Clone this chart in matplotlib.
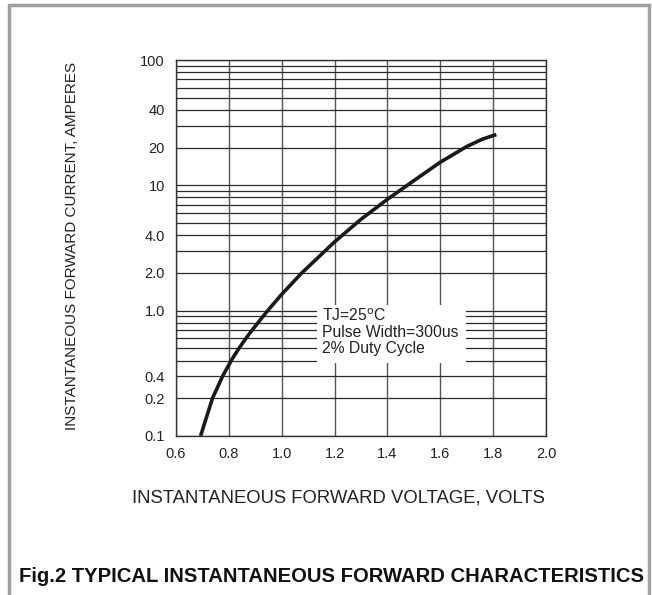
import matplotlib
matplotlib.use("Agg")
import matplotlib.pyplot as plt
from matplotlib.patches import Rectangle
from matplotlib.ticker import FixedLocator, LogLocator, NullFormatter

plt.rcParams["font.family"] = ["Liberation Sans", "DejaVu Sans"]

# forward characteristic
volts = [0.693, 0.738, 0.777, 0.812, 0.840, 0.867, 0.890, 0.944, 1.000,
         1.075, 1.200, 1.300, 1.400, 1.500, 1.600, 1.700, 1.760, 1.812]
amps = [0.100, 0.200, 0.302, 0.410, 0.507, 0.611, 0.708, 0.984, 1.35,
        1.99, 3.54, 5.36, 7.74, 10.9, 15.3, 20.4, 23.4, 25.4]

xtick_vals = [0.6, 0.8, 1.0, 1.2, 1.4, 1.6, 1.8, 2.0]
xtick_labels = ["0.6", "0.8", "1.0", "1.2", "1.4", "1.6", "1.8", "2.0"]
# the "0.4" label sits on the 0.3 line in the original
ytick_vals = [0.1, 0.2, 0.3, 1, 2, 4, 10, 20, 40, 100]
ytick_labels = ["0.1", "0.2", "0.4", "1.0", "2.0", "4.0", "10", "20", "40", "100"]

note = "TJ=25$^{\\rm o}$C\nPulse Width=300us\n2% Duty Cycle"

fig = plt.figure(figsize=(6.52, 5.95), dpi=100)
fig.patches.append(Rectangle((9 / 652, -0.02), 640 / 652, 1.02 - 5 / 595,
                             transform=fig.transFigure, fill=False,
                             edgecolor="#a0a0a0", linewidth=2.5))

ax = fig.add_axes([176 / 652, 1 - 436 / 595, 370 / 652, 376 / 595])
ax.set_yscale("log")
ax.set_xlim(0.6, 2.0)
ax.set_ylim(0.1, 100)

ax.set_xticks(xtick_vals)
ax.set_xticklabels(xtick_labels)
ax.yaxis.set_major_locator(FixedLocator(ytick_vals))
ax.set_yticklabels(ytick_labels)
ax.yaxis.set_minor_locator(LogLocator(base=10, subs=range(1, 10)))
ax.yaxis.set_minor_formatter(NullFormatter())
ax.tick_params(which="both", length=0, labelsize=10.5, colors="#222222", pad=8)

ax.set_axisbelow(True)
ax.grid(axis="x", color="#555555", linewidth=1.0)
ax.grid(axis="y", which="both", color="#2a2a2a", linewidth=0.9)
for s in ax.spines.values():
    s.set_color("#333333")
    s.set_linewidth(1.0)

ax.add_patch(Rectangle((0.381, 0.194), 0.403, 0.154, transform=ax.transAxes,
                       facecolor="white", edgecolor="none", zorder=1.5))
ax.text(0.395, 0.342, note, transform=ax.transAxes, va="top", ha="left",
        fontsize=11.3, color="#222222", linespacing=1.1, zorder=3)

ax.plot(volts, amps, color="#1a1a1a", linewidth=2.6, zorder=2,
        solid_capstyle="butt", solid_joinstyle="round")

fig.text(338 / 652, 1 - 498 / 595, "INSTANTANEOUS FORWARD VOLTAGE, VOLTS",
         ha="center", va="center", fontsize=13.3, color="#222222")
fig.text(72 / 652, 1 - 246 / 595, "INSTANTANEOUS FORWARD CURRENT, AMPERES",
         ha="center", va="center", rotation=90, fontsize=11, color="#222222")
fig.text(332 / 652, 1 - 576 / 595, "Fig.2 TYPICAL INSTANTANEOUS FORWARD CHARACTERISTICS",
         ha="center", va="center", fontsize=14.6, fontweight="bold",
         color="#111111")

fig.savefig("out.png", dpi=100)
